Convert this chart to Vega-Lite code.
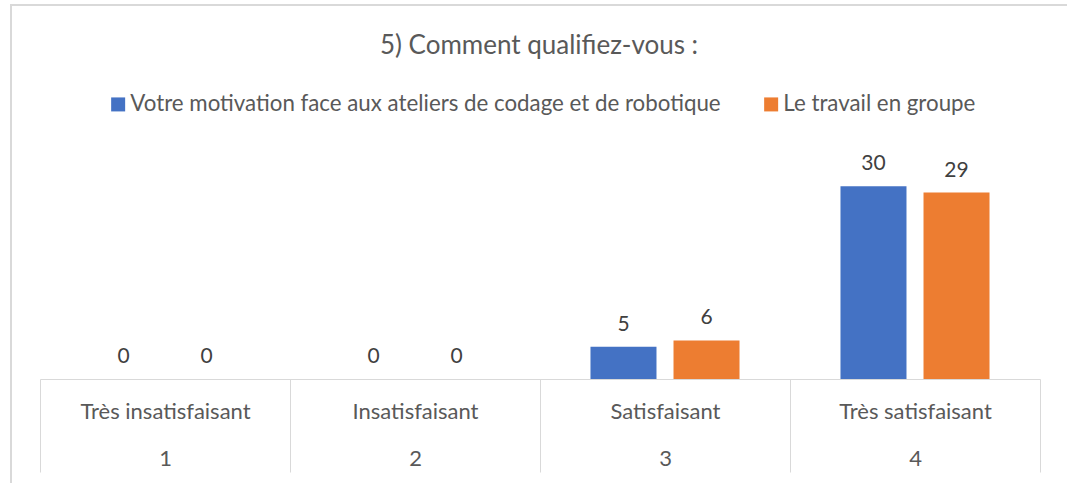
{
  "$schema": "https://vega.github.io/schema/vega-lite/v6.json",
  "autosize": {"type": "none"},
  "padding": {"left": 11, "top": 5, "right": 0, "bottom": 0},
  "width": 1070,
  "height": 490,
  "background": "#ffffff",
  "title": {
    "text": "5) Comment qualifiez-vous :",
    "frame": "group",
    "anchor": "middle",
    "orient": "top",
    "offset": -75,
    "dx": -7,
    "baseline": "alphabetic",
    "fontSize": 26,
    "fontWeight": "normal",
    "color": "#595959",
    "font": "Lato"
  },
  "data": {
    "values": [
      {"numero": 1, "categorie": "Très insatisfaisant", "serie": "Votre motivation face aux ateliers de codage et de robotique", "valeur": 0},
      {"numero": 1, "categorie": "Très insatisfaisant", "serie": "Le travail en groupe", "valeur": 0},
      {"numero": 2, "categorie": "Insatisfaisant", "serie": "Votre motivation face aux ateliers de codage et de robotique", "valeur": 0},
      {"numero": 2, "categorie": "Insatisfaisant", "serie": "Le travail en groupe", "valeur": 0},
      {"numero": 3, "categorie": "Satisfaisant", "serie": "Votre motivation face aux ateliers de codage et de robotique", "valeur": 5},
      {"numero": 3, "categorie": "Satisfaisant", "serie": "Le travail en groupe", "valeur": 6},
      {"numero": 4, "categorie": "Très satisfaisant", "serie": "Votre motivation face aux ateliers de codage et de robotique", "valeur": 30},
      {"numero": 4, "categorie": "Très satisfaisant", "serie": "Le travail en groupe", "valeur": 29}
    ]
  },
  "encoding": {
    "x": {
      "field": "categorie",
      "type": "nominal",
      "sort": ["Très insatisfaisant", "Insatisfaisant", "Satisfaisant", "Très satisfaisant"],
      "scale": {"range": [29, 1029], "paddingInner": 0, "paddingOuter": 0},
      "axis": {
        "title": null,
        "orient": "bottom",
        "offset": -116,
        "labelExpr": "indexof(['Très insatisfaisant','Insatisfaisant','Satisfaisant','Très satisfaisant'], datum.value) < 0 ? '' : [datum.label, '' + (indexof(['Très insatisfaisant','Insatisfaisant','Satisfaisant','Très satisfaisant'], datum.value) + 1)]",
        "labelAngle": 0,
        "labelFontSize": 22,
        "labelFont": "Lato",
        "labelColor": "#595959",
        "labelBaseline": "alphabetic",
        "labelLineHeight": 47,
        "labelPadding": -54,
        "labelOverlap": false,
        "labelBound": false,
        "labelLimit": 400,
        "domainColor": "#d9d9d9",
        "domainWidth": 1,
        "ticks": true,
        "tickBand": "extent",
        "tickSize": 93,
        "tickColor": "#d9d9d9",
        "tickWidth": 1,
        "grid": false
      }
    },
    "xOffset": {
      "field": "serie",
      "type": "nominal",
      "sort": ["Votre motivation face aux ateliers de codage et de robotique", "Le travail en groupe"],
      "scale": {"paddingInner": 0.205, "paddingOuter": 0.608}
    },
    "y": {
      "field": "valeur",
      "type": "quantitative",
      "scale": {"domain": [0, 35], "range": [374, 149], "nice": false, "zero": true},
      "axis": null
    }
  },
  "layer": [
    {
      "mark": {"type": "bar"},
      "encoding": {
        "color": {
          "field": "serie",
          "type": "nominal",
          "sort": ["Votre motivation face aux ateliers de codage et de robotique", "Le travail en groupe"],
          "scale": {
            "domain": ["Votre motivation face aux ateliers de codage et de robotique", "Le travail en groupe"],
            "range": ["#4472C4", "#ED7D31"]
          },
          "legend": {
            "title": null,
            "orient": "none",
            "direction": "horizontal",
            "legendX": 96,
            "legendY": 88,
            "padding": 0,
            "symbolType": "square",
            "symbolSize": 196,
            "symbolStrokeWidth": 0,
            "labelFontSize": 22.3,
            "labelFont": "Lato",
            "labelColor": "#595959",
            "labelOffset": 1,
            "labelLimit": 800,
            "columnPadding": 39
          }
        }
      }
    },
    {
      "mark": {"type": "text", "baseline": "alphabetic", "dy": -16, "fontSize": 21, "font": "Lato", "color": "#404040"},
      "encoding": {
        "text": {"field": "valeur", "type": "quantitative"}
      }
    }
  ],
  "config": {
    "view": {"stroke": "#d9d9d9", "strokeWidth": 2},
    "font": "Lato"
  }
}
